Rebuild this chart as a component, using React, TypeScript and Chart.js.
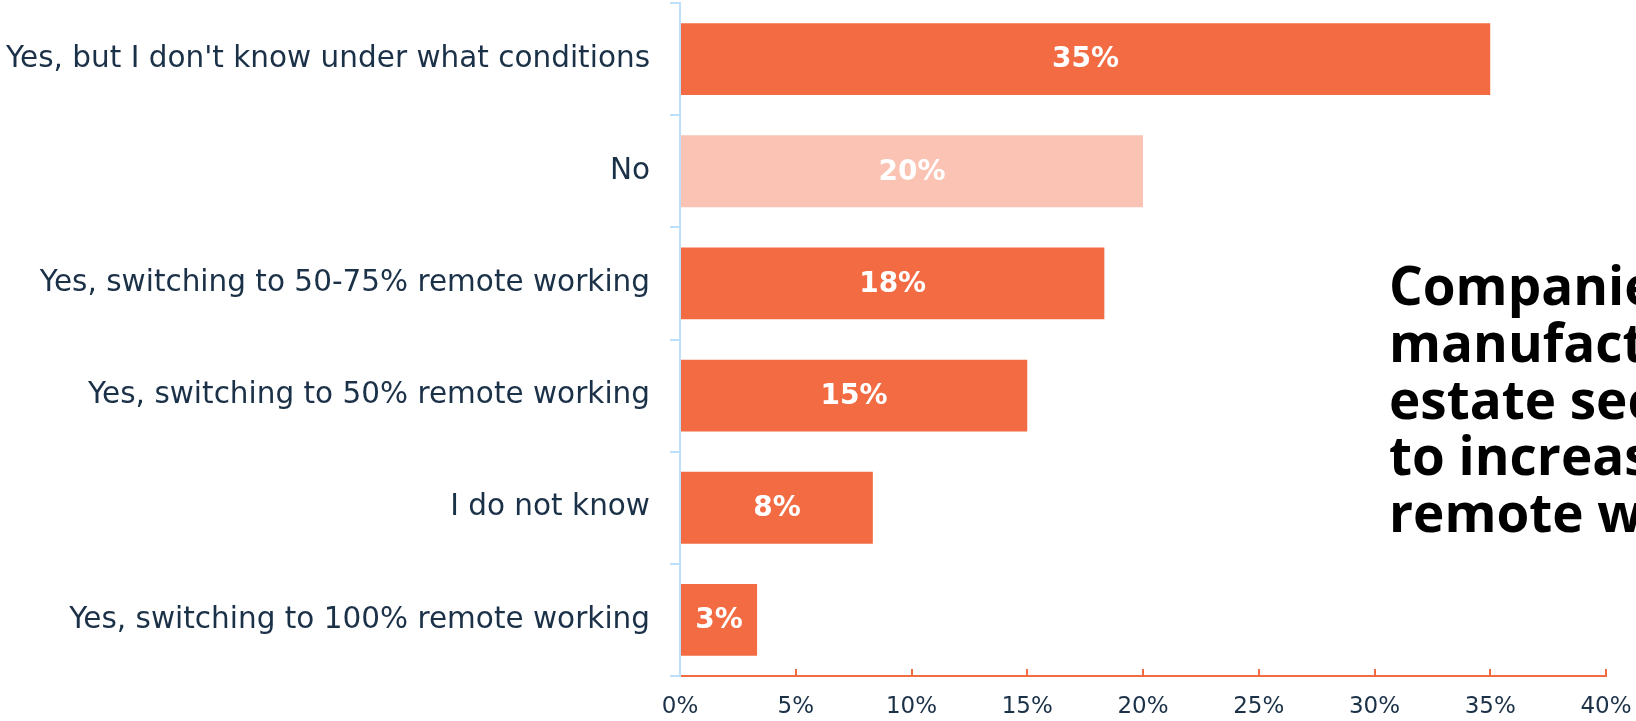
import React, { useEffect, useRef } from "react";
import { Chart, registerables } from "chart.js";

Chart.register(...registerables);

const categories: string[] = [
  "Yes, but I don't know under what conditions",
  "No",
  "Yes, switching to 50-75% remote working",
  "Yes, switching to 50% remote working",
  "I do not know",
  "Yes, switching to 100% remote working",
];
const values: number[] = [35, 20, 18.33, 15, 8.33, 3.33];
const valueLabels: string[] = ["35%", "20%", "18%", "15%", "8%", "3%"];
const barColors: string[] = ["#F26B42", "#FAC3B3", "#F26B42", "#F26B42", "#F26B42", "#F26B42"];
const titleLines: string[] = [
  "Companies in the",
  "manufacturing and real",
  "estate sector plan",
  "to increase",
  "remote working",
];

const NAVY = "#1B3148";
const ORANGE = "#F26B42";
const BLUE = "#BEDFFB";
const FONT = "'DejaVu Sans', sans-serif";
const TITLE_FONT = "'Open Sans', sans-serif";

const valueLabelPlugin = {
  id: "valueLabels",
  afterDatasetsDraw(chart: any) {
    const ctx = chart.ctx;
    const meta = chart.getDatasetMeta(0);
    ctx.save();
    ctx.fillStyle = "#FFFFFF";
    ctx.font = `bold 28px ${FONT}`;
    ctx.textAlign = "center";
    ctx.textBaseline = "middle";
    meta.data.forEach((el: any, i: number) => {
      const cx = (el.x + el.base) / 2;
      ctx.fillText(valueLabels[i], cx, el.y + 1);
    });
    ctx.restore();
  },
};

const titlePlugin = {
  id: "sideTitle",
  afterDraw(chart: any) {
    const ctx = chart.ctx;
    ctx.save();
    ctx.fillStyle = "#000000";
    ctx.font = `bold 53px ${TITLE_FONT}`;
    ctx.textAlign = "left";
    ctx.textBaseline = "alphabetic";
    const x0 = 1389;
    const y0 = 305;
    const lh = 56.8;
    titleLines.forEach((line, i) => {
      ctx.fillText(line, x0, y0 + i * lh);
    });
    ctx.restore();
  },
};

export default function App() {
  const canvasRef = useRef<HTMLCanvasElement | null>(null);

  useEffect(() => {
    document.body.style.margin = "0";
    const canvas = canvasRef.current;
    if (!canvas) return;
    const chart = new Chart(canvas, {
      type: "bar",
      data: {
        labels: categories,
        datasets: [
          {
            data: values,
            backgroundColor: barColors,
            borderWidth: 0,
            barPercentage: 0.8,
            categoryPercentage: 0.8,
          },
        ],
      },
      options: {
        indexAxis: "y",
        responsive: false,
        animation: false,
        layout: { padding: { top: 3, right: 30, left: 0, bottom: 0 } },
        plugins: {
          legend: { display: false },
          tooltip: { enabled: false },
          title: { display: false },
        },
        scales: {
          x: {
            type: "linear",
            position: "bottom",
            min: 0,
            max: 40,
            afterFit(scale: any) {
              scale.height = 45;
              scale.paddingLeft = 0;
              scale.paddingRight = 0;
              scale.paddingTop = 0;
              scale.paddingBottom = 0;
            },
            ticks: {
              stepSize: 5,
              color: NAVY,
              font: { family: FONT, size: 23 },
              padding: 24,
              callback: (v: any) => `${v}%`,
            },
            grid: {
              drawOnChartArea: false,
              drawTicks: true,
              tickLength: -7,
              color: ORANGE,
              lineWidth: 2,
            },
            border: { display: true, color: ORANGE, width: 2 },
          },
          y: {
            type: "category",
            position: "left",
            afterFit(scale: any) {
              scale.width = 680;
              scale.paddingTop = 0;
              scale.paddingBottom = 0;
              scale.paddingLeft = 0;
              scale.paddingRight = 0;
            },
            ticks: {
              color: NAVY,
              font: { family: FONT, size: 29.5 },
              padding: 20,
            },
            grid: {
              offset: true,
              drawOnChartArea: false,
              drawTicks: true,
              tickLength: 10,
              color: BLUE,
              lineWidth: 2,
            },
            border: { display: true, color: BLUE, width: 2 },
          },
        },
      },
      plugins: [valueLabelPlugin, titlePlugin],
    });
    return () => chart.destroy();
  }, []);

  return (
    <div style={{ width: 1636, height: 721 }}>
      <canvas ref={canvasRef} width={1636} height={721} style={{ display: "block" }} />
    </div>
  );
}
